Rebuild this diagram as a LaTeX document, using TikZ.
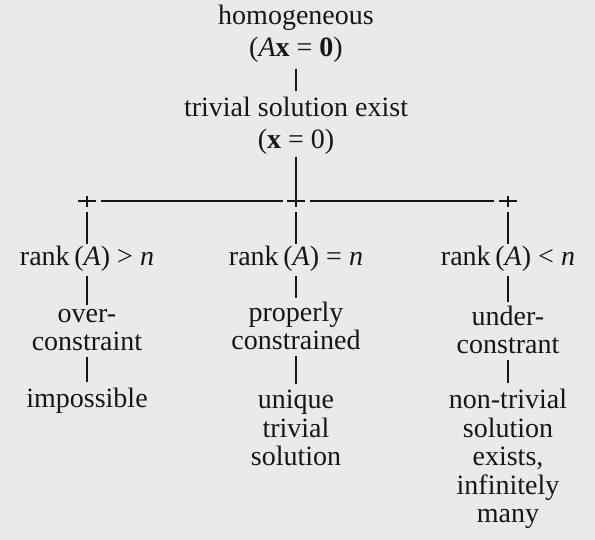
\documentclass[tikz,border=0pt]{standalone}
\usepackage{fontspec}
\setmainfont{Liberation Serif}
\definecolor{paper}{RGB}{234,234,234}
\definecolor{ink}{RGB}{22,22,22}
\begin{document}
\begin{tikzpicture}[x=1pt,y=-1pt,font=\fontsize{28}{28.5}\selectfont,
  every node/.style={text=ink,align=center,inner sep=2pt},
  link/.style={draw=ink,line width=1.2pt}]
\fill[paper] (0,0) rectangle (595,540);
% top of the tree
\node (homog) at (296,34) {homogeneous\\[3pt](\textit{A}\textbf{x} = \textbf{0})};
\node (triv) at (296,126) {trivial solution exist\\[3pt](\textbf{x} = 0)};
\coordinate (jl) at (87,201);
\coordinate (jm) at (296,201);
\coordinate (jr) at (508,201);
\draw[link,shorten <=4pt,shorten >=4pt] (homog) -- (triv);
\draw[link] (triv) -- (jm);
% the three branches
\foreach \j in {jl,jm,jr}
  \draw[link] ([xshift=-9pt]\j) -- ([xshift=9pt]\j) ([yshift=5pt]\j) -- ([yshift=-6pt]\j);
\draw[link] ([xshift=14pt]jl) -- ([xshift=-13pt]jm);
\draw[link] ([xshift=14pt]jm) -- ([xshift=-14pt]jr);
\node (rankl) at (87,259) {rank\,(\textit{A}) > \textit{n}};
\node (rankm) at (296,259) {rank\,(\textit{A}) = \textit{n}};
\node (rankr) at (508,259) {rank\,(\textit{A}) < \textit{n}};
\node (overl) at (87,330) {over-\\constraint};
\node (propm) at (296,326) {properly\\constrained};
\node (underr) at (508,330) {under-\\constrant};
\node (impl) at (87,401) {impossible};
\node (uniqm) at (296,428) {unique\\trivial\\solution};
\node (nontr) at (508,459) {non-trivial\\solution\\exists,\\infinitely\\many};
\draw[link] ([yshift=-11pt]jl) -- (rankl);
\draw[link] ([yshift=-11pt]jm) -- (rankm);
\draw[link] ([yshift=-11pt]jr) -- (rankr);
\draw[link,shorten <=2pt,shorten >=2pt] (rankl) -- (overl);
\draw[link,shorten <=2pt,shorten >=2pt] (rankm) -- (propm);
\draw[link,shorten <=2pt,shorten >=2pt] (rankr) -- (underr);
\draw[link,shorten <=4pt,shorten >=4pt] (overl) -- (impl);
\draw[link,shorten <=4pt,shorten >=4pt] (propm) -- (uniqm);
\draw[link,shorten <=4pt,shorten >=4pt] (underr) -- (nontr);
\end{tikzpicture}
\end{document}
